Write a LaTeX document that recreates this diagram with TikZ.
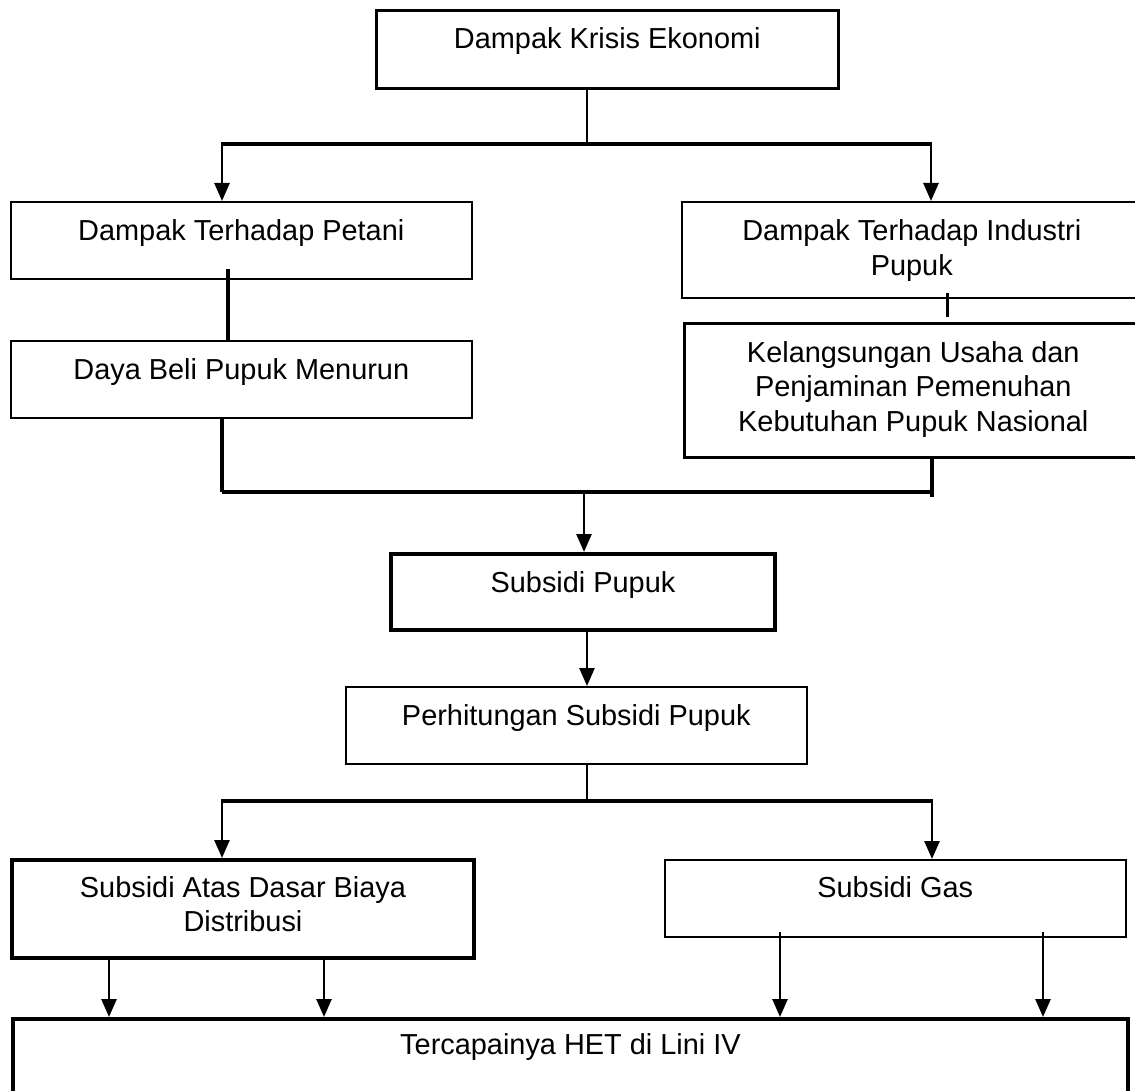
\documentclass[tikz,border=0pt]{standalone}
\usepackage{fontspec}
\setmainfont{Liberation Sans}
\usetikzlibrary{arrows.meta,calc}
\begin{document}
\begin{tikzpicture}[x=1pt,y=-1pt,
  thinbox/.style={draw, line width=1.6pt, inner sep=0pt, anchor=north west},
  medbox/.style={draw, line width=2.6pt, inner sep=0pt, anchor=north west},
  thickbox/.style={draw, line width=4pt, inner sep=0pt, anchor=north west},
  txt/.style={inner sep=0pt, anchor=base, font=\fontsize{28.9}{34.5}\selectfont},
  conn/.style={line width=2.7pt},
  tick/.style={line width=3.4pt},
  bar/.style={line width=4.2pt},
  arr/.style={line width=2.7pt, -{Triangle[width=15pt,length=18pt]}},
]
\useasboundingbox (0,0) rectangle (1135,1091);
\fill[white] (0,0) rectangle (1135,1091);

% boxes
\node[medbox, minimum width=462pt, minimum height=78pt] (A) at (375,9) {};
\node[txt] (At) at ([yshift=-40pt]A.north) {Dampak Krisis Ekonomi};

\node[thinbox, minimum width=461pt, minimum height=77pt] (B) at (10,201) {};
\node[txt] (Bt) at ([yshift=-40pt]B.north) {Dampak Terhadap Petani};

\node[thinbox, minimum width=460pt, minimum height=96pt] (C) at (681,201) {};
\node[txt] (Ct) at ([yshift=-40pt]C.north) {\parbox[t]{440pt}{\centering Dampak Terhadap Industri\\Pupuk}};

\node[thinbox, minimum width=461pt, minimum height=77pt] (D) at (10,340) {};
\node[txt] (Dt) at ([yshift=-39pt]D.north) {Daya Beli Pupuk Menurun};

\node[medbox, minimum width=458pt, minimum height=134pt] (E) at (683,322) {};
\node[txt] (Et) at ([yshift=-40pt]E.north) {\parbox[t]{440pt}{\centering Kelangsungan Usaha dan\\Penjaminan Pemenuhan\\Kebutuhan Pupuk Nasional}};

\node[thickbox, minimum width=384pt, minimum height=76pt] (F) at (389,552) {};
\node[txt] (Ft) at ([yshift=-40pt]F.north) {Subsidi Pupuk};

\node[thinbox, minimum width=461pt, minimum height=77pt] (G) at (345,686) {};
\node[txt] (Gt) at ([yshift=-39pt]G.north) {Perhitungan Subsidi Pupuk};

\node[thickbox, minimum width=462pt, minimum height=98pt] (H) at (10,858) {};
\node[txt] (Ht) at ([yshift=-39pt]H.north) {\parbox[t]{440pt}{\centering Subsidi Atas Dasar Biaya\\Distribusi}};

\node[thinbox, minimum width=461pt, minimum height=77pt] (I) at (664,859) {};
\node[txt] (It) at ([yshift=-38pt]I.north) {Subsidi Gas};

\node[thickbox, minimum width=1115pt, minimum height=90pt] (J) at (11,1017) {};
\node[txt] (Jt) at ([yshift=-37pt]J.north) {Tercapainya HET di Lini IV};

% coordinates
\coordinate (b1m) at (587,144);
\coordinate (b1l) at (221,144);
\coordinate (b1r) at (932,144);
\coordinate (pB) at (228,269);
\coordinate (pC) at (947.5,293);
\coordinate (qC) at (947.5,317);
\coordinate (b2l) at (222,492);
\coordinate (b2r) at (932,492);
\coordinate (b2m) at (584,492);
\coordinate (eE) at (932,497);
\coordinate (b3m) at (587,801);
\coordinate (b3l) at (221,801);
\coordinate (b3r) at (933,801);
\coordinate (h1) at (109,956);
\coordinate (h2) at (324,956);
\coordinate (g1) at (780,932);
\coordinate (g2) at (1043,932);

% top split
\draw[conn] (b1m |- A.south) -- (b1m);
\draw[bar] (b1l) -- (b1r);
\draw[arr] ([xshift=1pt]b1l) -- ([xshift=1pt]b1l |- B.north);
\draw[arr] ([xshift=-1pt]b1r) -- ([xshift=-1pt]b1r |- C.north);

% inner links
\draw[tick] (pB) -- (pB |- D.north);
\draw[tick] (pC) -- (qC);

% merge
\draw[tick] (b2l |- D.south) -- (b2l);
\draw[tick] (b2r |- E.south) -- (eE);
\draw[bar] (b2l) -- (b2r);
\draw[arr] (b2m) -- (b2m |- F.north);

% F -> G
\draw[arr] (b1m |- F.south) -- (b1m |- G.north);

% second split
\draw[conn] (b3m |- G.south) -- (b3m);
\draw[bar] (b3l) -- (b3r);
\draw[arr] ([xshift=1pt]b3l) -- ([xshift=1pt]b3l |- H.north);
\draw[arr] ([xshift=-1pt]b3r) -- ([xshift=-1pt]b3r |- I.north);

% to final
\draw[arr] (h1) -- (h1 |- J.north);
\draw[arr] (h2) -- (h2 |- J.north);
\draw[arr] (g1) -- (g1 |- J.north);
\draw[arr] (g2) -- (g2 |- J.north);
\end{tikzpicture}
\end{document}
